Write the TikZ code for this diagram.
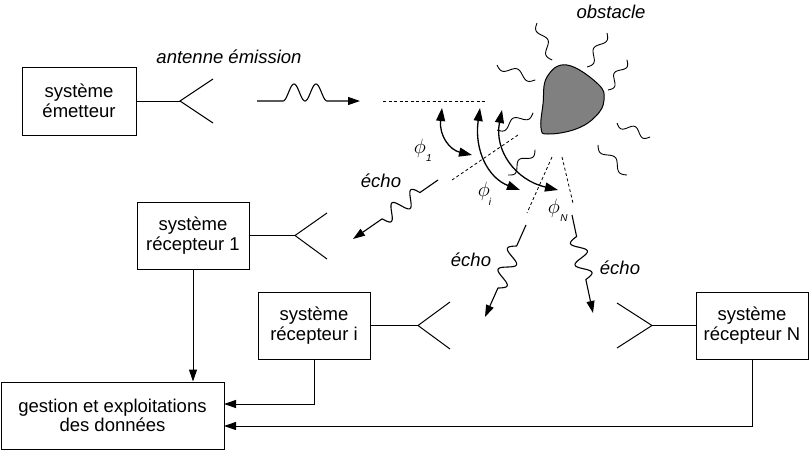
\documentclass[tikz,border=0pt]{standalone}
\usepackage{fontspec}
\setmainfont{Liberation Sans}
\usetikzlibrary{arrows.meta}
\begin{document}
\begin{tikzpicture}[x=1pt,y=-1pt,
  txt/.style={font=\fontsize{18.5}{19.5}\selectfont, align=center, inner sep=0pt},
  lbl/.style={font=\fontsize{18.5}{19.5}\selectfont\itshape, inner sep=0pt},
  phil/.style={font=\fontsize{21}{21}\selectfont, inner sep=0pt},
  sub/.style={font=\fontsize{10}{10}\selectfont\itshape, inner sep=0pt},
  box/.style={draw, line width=1pt, txt, minimum height=67pt},
  ln/.style={line width=1pt},
  tip/.style={-{Triangle[length=12pt,width=8pt]}},
  arr/.style={ln, tip},
  angarc/.style={line width=1.3pt, {Triangle[length=13pt,width=9pt]}-{Triangle[length=13pt,width=9pt]}},
  dsh/.style={line width=0.8pt, dash pattern=on 3pt off 2.5pt},
  wavel/.style={line width=1.1pt, tip, line join=round},
  wigl/.style={line width=0.9pt, line join=round}
]
\useasboundingbox (0,0) rectangle (809,450);

% boxes
\node[box, minimum width=114pt, minimum height=68pt] (em) at (79,101) {système\\émetteur};
\node[box, minimum width=112pt] (r1) at (193,235.5) {système\\récepteur 1};
\node[box, minimum width=112pt] (ri) at (314,325.5) {système\\récepteur i};
\node[box, minimum width=112pt] (rN) at (752,325.5) {système\\récepteur N};
\node[box, minimum width=223pt] (g) at (112.5,415.5) {gestion et exploitations\\des données};

% antennas
\coordinate (aE) at (180,101); \coordinate (aE1) at (213,79); \coordinate (aE2) at (213,123);
\coordinate (a1) at (295,235.5); \coordinate (a11) at (327,213); \coordinate (a12) at (327,259);
\coordinate (ai) at (418,325.5); \coordinate (ai1) at (450,302); \coordinate (ai2) at (450,349);
\coordinate (aN) at (652,325.5); \coordinate (aN1) at (617,303); \coordinate (aN2) at (617,348);
\draw[ln] (em.east) -- (aE); \draw[ln] (aE1) -- (aE) -- (aE2);
\draw[ln] (r1.east) -- (a1); \draw[ln] (a11) -- (a1) -- (a12);
\draw[ln] (ri.east) -- (ai); \draw[ln] (ai1) -- (ai) -- (ai2);
\draw[ln] (rN.west) -- (aN); \draw[ln] (aN1) -- (aN) -- (aN2);

% data connections
\coordinate (gi) at (224,404);
\coordinate (gn) at (224,426);
\draw[arr] (r1.south) -- (r1.south |- g.north);
\draw[arr] (ri.south) |- (gi);
\draw[arr] (rN.south) |- (gn);

% labels
\node[lbl] (lant) at (229,57) {antenne émission};
\node[lbl] (lobs) at (611,12) {obstacle};
\node[lbl] (le1) at (381,181) {écho};
\node[lbl] (lei) at (471,260) {écho};
\node[lbl] (leN) at (620,268) {écho};

% emission wave
\coordinate (w0) at (257,101);
\coordinate (w1) at (283,101);
\coordinate (w2) at (360,101);
\draw[wavel] (w0) -- (w1) -- plot[domain=0:720, samples=60, variable=\t] ({283+\t/720*44},{101-8.5*(1-cos(\t))}) -- (w2);

% obstacle
\draw[line width=1pt, fill=black!50] plot[smooth cycle, tension=0.7] coordinates
  {(547,77) (567,65) (598,84) (604,100) (596,116) (576,129) (548,134) (541,128) (543,104)};

% wiggles around obstacle
\coordinate (s1a) at (537,23);  \coordinate (s1b) at (552,60);
\coordinate (s2a) at (587,67);  \coordinate (s2b) at (607,33);
\coordinate (s3a) at (608,90);  \coordinate (s3b) at (627,60);
\coordinate (s4a) at (497,65);  \coordinate (s4b) at (535,80);
\coordinate (s5a) at (617,123); \coordinate (s5b) at (650,137);
\coordinate (s6a) at (598,145); \coordinate (s6b) at (627,175);
\coordinate (s7a) at (497,130); \coordinate (s7b) at (533,113);
\coordinate (s8a) at (508,175); \coordinate (s8b) at (535,150);
\foreach \p/\q/\ang/\len in {s1a/s1b/-67.9/39.9, s2a/s2b/59.5/39.4, s3a/s3b/57.7/35.5,
    s4a/s4b/-21.5/40.9, s5a/s5b/-23.0/35.8, s6a/s6b/-46.0/41.7, s7a/s7b/25.3/39.8, s8a/s8b/42.8/36.8}{
  \begin{scope}[shift={(\p)}, rotate=\ang]
    \draw[wigl] (\p) -- plot[domain=0:540, samples=40, variable=\t] ({\t/540*\len},{3.8*sin(\t)}) -- (\q);
  \end{scope}
}

% dashed reference lines
\coordinate (h0) at (383,101); \coordinate (h1) at (485,101);
\coordinate (d1a) at (518,135); \coordinate (d1b) at (452,180);
\coordinate (dia) at (552,157); \coordinate (dib) at (527,213);
\coordinate (dNa) at (562,157); \coordinate (dNb) at (573,203);
\draw[dsh] (h0) -- (h1);
\draw[dsh] (d1a) -- (d1b);
\draw[dsh] (dia) -- (dib);
\draw[dsh] (dNa) -- (dNb);

% echo waves
\coordinate (e1a) at (438,180); \coordinate (e1b) at (353,239);
\coordinate (eia) at (526,225); \coordinate (eib) at (485,317);
\coordinate (eNa) at (572,215); \coordinate (eNb) at (593,313);
\foreach \p/\q/\ang/\pre/\wl in {e1a/e1b/214.8/22/46, eia/eib/246.0/23/46, eNa/eNb/282.1/22/44}{
  \begin{scope}[shift={(\p)}, rotate=\ang]
    \draw[wavel] (\p) -- (\pre,0) -- plot[domain=0:720, samples=60, variable=\t] ({\pre+\t/720*\wl},{7.5*sin(\t)}) -- (\q);
  \end{scope}
}

% angle arcs
\coordinate (p1a) at (442,108); \coordinate (p1b) at (472,155);
\coordinate (pia) at (480,108); \coordinate (pib) at (520,190);
\coordinate (pNa) at (502,110); \coordinate (pNb) at (558,190);
\draw[angarc] (p1a) .. controls (439,136) and (450,150) .. (p1b);
\draw[angarc] (pia) .. controls (474,150) and (488,178) .. (pib);
\draw[angarc] (pNa) .. controls (494,150) and (515,180) .. (pNb);

% phi labels
\node[phil] (f1) at (420,148) {$\phi$};
\node[sub] (f1s) at (429,158) {1};
\node[phil] (fi) at (484,191) {$\phi$};
\node[sub] (fis) at (490,202) {i};
\node[phil] (fN) at (554,208) {$\phi$};
\node[sub] (fNs) at (564,218) {N};
\end{tikzpicture}
\end{document}
